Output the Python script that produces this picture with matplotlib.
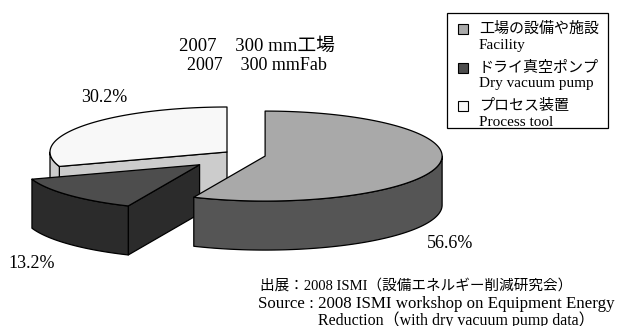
import numpy as np
import matplotlib.pyplot as plt
from matplotlib.patches import Polygon, Rectangle

plt.rcParams['font.family'] = ['Liberation Serif', 'Noto Sans CJK JP']

# data
shares = [56.6, 13.2, 30.2]
names_jp = ['工場の設備や施設', 'ドライ真空ポンプ', 'プロセス装置']
names_en = ['Facility', 'Dry vacuum pump', 'Process tool']
pct_labels = ['56.6%', '13.2%', '30.2%']
title_lines = ['2007\u3000300 mm工場', '2007\u3000300 mmFab']
source_lines = ['出展：2008 ISMI（設備エネルギー削減研究会）',
                'Source : 2008 ISMI workshop on Equipment Energy',
                'Reduction（with dry vacuum pump data）']

# styles
top_colors = ['#a9a9a9', '#4d4d4d', '#f8f8f8']
side_colors = ['#555555', '#2b2b2b', '#cccccc']
explode = [0.22, 0.21, 0.0]
label_pos = [(450, 243), (32, 263), (104, 98)]

# pie geometry (pixel units, y pointing down)
cx, cy = 227, 152
rx, ry = 177, 45
depth = 49
tilt = 2.0  # exploded slices move further vertically in the 3d view

fig = plt.figure(figsize=(6.17, 3.26), dpi=100)
ax = fig.add_axes([0, 0, 1, 1])
ax.set_xlim(0, 617)
ax.set_ylim(326, 0)
ax.axis('off')


def rim(t, ox, oy, drop=0):
    t = np.atleast_1d(t)
    return np.column_stack([ox + rx * np.cos(t), oy - ry * np.sin(t) + drop])


fracs = np.array(shares) / sum(shares)
ends = np.pi / 2 - 2 * np.pi * np.cumsum(fracs)
starts = np.concatenate([[np.pi / 2], ends[:-1]])
kw = dict(ec='black', lw=0.9, joinstyle='round')

# back to front: process tool, dry pump, facility
for i in [2, 1, 0]:
    t0, t1 = starts[i], ends[i]
    mid = (t0 + t1) / 2
    ox = cx + explode[i] * rx * np.cos(mid)
    oy = cy - explode[i] * ry * tilt * np.sin(mid)
    # radial walls facing the viewer
    for t, nrm in ((t0, t0 + np.pi / 2), (t1, t1 - np.pi / 2)):
        if np.sin(nrm) < -1e-6:
            p = rim(t, ox, oy)[0]
            quad = [(ox, oy), p, (p[0], p[1] + depth), (ox, oy + depth)]
            ax.add_patch(Polygon(quad, fc=side_colors[i], **kw))
    # curved front wall
    a, b = max(t1, -np.pi), min(t0, 0)
    if a < b:
        t = np.linspace(a, b, 120)
        wall = np.vstack([rim(t, ox, oy), rim(t[::-1], ox, oy, depth)])
        ax.add_patch(Polygon(wall, fc=side_colors[i], **kw))
    # top face
    t = np.linspace(t0, t1, 240)
    face = np.vstack([[ox, oy], rim(t, ox, oy)])
    ax.add_patch(Polygon(face, fc=top_colors[i], **kw))

for (x, y), s in zip(label_pos, pct_labels):
    ax.text(x, y, s, fontsize=13, ha='center', va='center')

ax.text(257, 46, title_lines[0], fontsize=13.5, ha='center', va='center')
ax.text(257, 66, title_lines[1], fontsize=13, ha='center', va='center')

# legend box
ax.add_patch(Rectangle((447, 13), 161, 115, fc='white', ec='black', lw=0.9))
for k in range(3):
    yj = 29 + k * 38.5
    ax.add_patch(Rectangle((458, yj - 5), 10, 10, fc=top_colors[k], ec='black', lw=0.8))
    ax.text(479, yj, names_jp[k], fontsize=10.8, ha='left', va='center')
    ax.text(479, yj + 16, names_en[k], fontsize=11, ha='left', va='center')

ax.text(260, 286, source_lines[0], fontsize=10.5, ha='left', va='center')
ax.text(258, 304, source_lines[1], fontsize=12.2, ha='left', va='center')
ax.text(318, 320, source_lines[2], fontsize=11.5, ha='left', va='center')

fig.savefig('out.png', dpi=100)
